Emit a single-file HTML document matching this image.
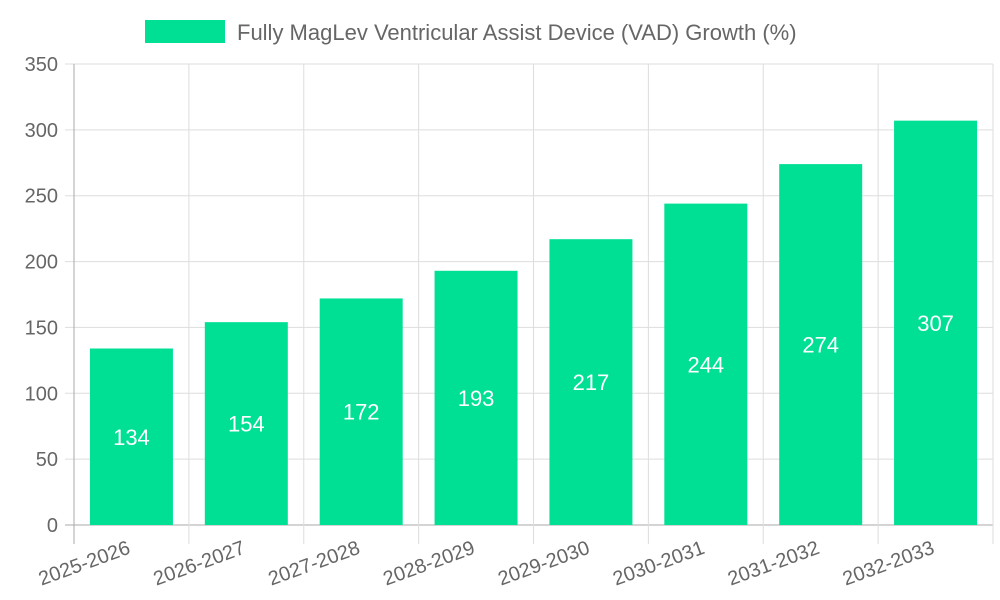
<!DOCTYPE html>
<html><head><meta charset="utf-8"><style>
body{margin:0;background:#fff;}
svg{display:block;font-family:"Liberation Sans",sans-serif;}
</style></head><body>
<svg id="chart" width="1000" height="600">
<g>
<rect x="145" y="20" width="80" height="23" fill="#00e094"></rect>
<text x="237" y="40" font-size="22" fill="#666">Fully MagLev Ventricular Assist Device (VAD) Growth (%)</text>
</g>
<g id="grid"></g><g id="bars"></g><g id="labels"></g>
</svg>
<script>
const categories=["2025-2026","2026-2027","2027-2028","2028-2029","2029-2030","2030-2031","2031-2032","2032-2033"];
const values=[134,154,172,193,217,244,274,307];
const yTicks=[0,50,100,150,200,250,300,350];
const ns="http://www.w3.org/2000/svg";
const L=74,R=993,T=64,B=525,yMax=350;
const cw=(R-L)/categories.length;
const y=v=>B-(v/yMax)*(B-T);
const x=i=>L+cw*i;
function mk(tag,attrs,parent,text){const e=document.createElementNS(ns,tag);for(const k in attrs)e.setAttribute(k,attrs[k]);if(text!==undefined)e.textContent=text;document.getElementById(parent).appendChild(e);return e;}
yTicks.forEach(t=>{
 const g=mk("line",{x1:65,x2:R,y1:y(t),y2:y(t),stroke:t===0?"#aaa":"#ddd","stroke-width":1},"grid");
 
 
 const l=mk("text",{x:58,y:y(t)+7,"text-anchor":"end","font-size":20,fill:"#666"},"grid",t);
 
 
});
for(let i=0;i<=categories.length;i++){
 const g=mk("line",{x1:x(i),x2:x(i),y1:T,y2:544,stroke:i===0?"#aaa":"#ddd","stroke-width":1},"grid");
 
 
}
categories.forEach((c,i)=>{
 const cx=x(i)+cw/2,bw=83;
 const b=mk("rect",{x:cx-bw/2,y:y(values[i]),width:bw,height:B-y(values[i]),fill:"#00e094"},"bars");
 
 
 const v=mk("text",{x:cx,y:(y(values[i])+B)/2+8,"text-anchor":"middle","font-size":22,fill:"#fff"},"labels",values[i]);
 
 
 const t=mk("text",{x:cx,y:553,"text-anchor":"end","font-size":20,fill:"#666",transform:`rotate(-20 ${cx} 553)`},"labels",c);
 
 
});
</script>
</body></html>
